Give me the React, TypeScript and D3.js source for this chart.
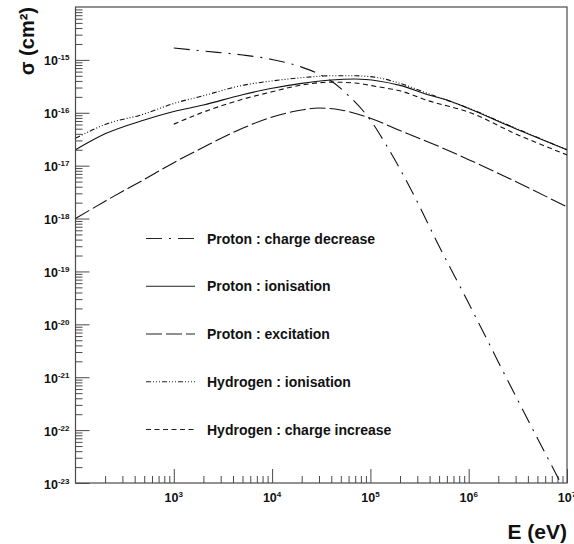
import React, { useEffect, useRef } from "react";
import * as d3 from "d3";

const width = 574;
const height = 544;
const marginTop = 7;
const marginRight = 7;
const marginBottom = 61;
const marginLeft = 75.5;

// Proton : charge decrease
const cdEnergy = [1e3, 2e3, 5e3, 1e4, 2e4, 3e4, 4e4, 6e4, 1e5, 1.5e5, 2.5e5, 5e5, 1e6, 2e6, 5e6, 1e7];
const cdSigma = [1.68e-15, 1.47e-15, 1.24e-15, 1.02e-15, 7.3e-16, 5.4e-16, 4.0e-16, 2.1e-16, 7.3e-17, 2.2e-17, 4.0e-18, 3.0e-19, 2.5e-20, 1.95e-21, 7e-23, 6e-24];

// Proton : ionisation
const piEnergy = [100, 200, 500, 1e3, 2e3, 5e3, 1e4, 2e4, 4e4, 7e4, 1.2e5, 2e5, 4e5, 6e5, 1e6, 3e6, 1e7];
const piSigma = [2.0e-17, 4.0e-17, 7.3e-17, 1.06e-16, 1.4e-16, 2.2e-16, 2.9e-16, 3.6e-16, 4.17e-16, 4.35e-16, 4.0e-16, 3.3e-16, 2.15e-16, 1.75e-16, 1.2e-16, 5.0e-17, 2.0e-17];

// Proton : excitation
const peEnergy = [100, 200, 500, 1e3, 2e3, 5e3, 1e4, 2e4, 3e4, 5e4, 1e5, 2e5, 5e5, 1e6, 3e6, 1e7];
const peSigma = [1.0e-18, 2.13e-18, 5.5e-18, 1.14e-17, 2.23e-17, 5.1e-17, 8.3e-17, 1.13e-16, 1.23e-16, 1.13e-16, 7.9e-17, 4.6e-17, 2.3e-17, 1.3e-17, 5.0e-18, 1.66e-18];

// Hydrogen : ionisation
const hiEnergy = [100, 200, 500, 1e3, 2e3, 5e3, 1e4, 2e4, 4e4, 7e4, 1.2e5, 2e5, 4e5, 1e6, 3e6, 1e7];
const hiSigma = [3.3e-17, 6.0e-17, 9.5e-17, 1.5e-16, 2.1e-16, 3.3e-16, 4.0e-16, 4.6e-16, 5.0e-16, 5.0e-16, 4.6e-16, 3.6e-16, 2.25e-16, 1.22e-16, 5.1e-17, 2.0e-17];

// Hydrogen : charge increase
const hcEnergy = [1e3, 2e3, 5e3, 1e4, 2e4, 4e4, 7e4, 1.2e5, 2e5, 4e5, 1e6, 3e6, 1e7];
const hcSigma = [6.1e-17, 1.03e-16, 1.8e-16, 2.5e-16, 3.35e-16, 3.8e-16, 3.65e-16, 3.1e-16, 2.6e-16, 1.66e-16, 1.03e-16, 4.0e-17, 1.6e-17];

const seriesLabels = [
  "Proton : charge decrease",
  "Proton : ionisation",
  "Proton : excitation",
  "Hydrogen : ionisation",
  "Hydrogen : charge increase",
];

const xExponents = [3, 4, 5, 6, 7];
const yExponents = [-23, -22, -21, -20, -19, -18, -17, -16, -15];

const dashes = ["16 7 2 7", null, "16 4", "5 2 1 2 1 2 1 2", "5 3.5"];
const font = "'Liberation Sans', Arial, Helvetica, sans-serif";

const App = () => {
  const ref = useRef(null);

  useEffect(() => {
    const series = [
      { label: seriesLabels[0], E: cdEnergy, S: cdSigma },
      { label: seriesLabels[1], E: piEnergy, S: piSigma },
      { label: seriesLabels[2], E: peEnergy, S: peSigma },
      { label: seriesLabels[3], E: hiEnergy, S: hiSigma },
      { label: seriesLabels[4], E: hcEnergy, S: hcSigma },
    ];

    const x = d3.scaleLog([1e2, 1e7], [marginLeft, width - marginRight]);
    const y = d3.scaleLog([1e-23, 1e-14], [height - marginBottom, marginTop]);

    const svg = d3.select(ref.current);
    svg.selectAll("*").remove();

    // minor tick values 2..9 per decade
    const minors = (lo, hi) => {
      const out = [];
      for (let e = lo; e < hi; e++) for (let k = 2; k <= 9; k++) out.push(k * Math.pow(10, e));
      return out;
    };
    const axisColor = "#4a4a4a";

    svg
      .append("defs")
      .append("clipPath")
      .attr("id", "plot")
      .append("rect")
      .attr("x", marginLeft)
      .attr("y", marginTop)
      .attr("width", width - marginRight - marginLeft)
      .attr("height", height - marginBottom - marginTop);

    // x axis (ticks pointing inward)
    const gx = svg.append("g").attr("transform", `translate(0,${height - marginBottom})`);
    gx.call(d3.axisBottom(x).tickValues(minors(2, 7)).tickSize(-7).tickFormat(() => "").tickSizeOuter(0));
    gx.call((g) => g.select(".domain").remove());
    const gx2 = svg.append("g").attr("transform", `translate(0,${height - marginBottom})`);
    gx2.call(d3.axisBottom(x).tickValues(xExponents.map((e) => Math.pow(10, e))).tickSize(-14).tickFormat(() => "").tickSizeOuter(0));
    gx2.call((g) => g.select(".domain").remove());

    // y axis
    const gy = svg.append("g").attr("transform", `translate(${marginLeft},0)`);
    gy.call(d3.axisLeft(y).tickValues(minors(-23, -14)).tickSize(-7).tickFormat(() => "").tickSizeOuter(0));
    gy.call((g) => g.select(".domain").remove());
    const gy2 = svg.append("g").attr("transform", `translate(${marginLeft},0)`);
    gy2.call(d3.axisLeft(y).tickValues(yExponents.map((e) => Math.pow(10, e))).tickSize(-14).tickFormat(() => "").tickSizeOuter(0));
    gy2.call((g) => g.select(".domain").remove());

    svg.selectAll(".tick line").attr("stroke", axisColor).attr("stroke-width", 1);

    // frame
    svg
      .append("rect")
      .attr("x", marginLeft)
      .attr("y", marginTop)
      .attr("width", width - marginRight - marginLeft)
      .attr("height", height - marginBottom - marginTop)
      .attr("fill", "none")
      .attr("stroke", axisColor)
      .attr("stroke-width", 1.2);

    // tick labels
    const xl = svg
      .append("g")
      .selectAll("text")
      .data(xExponents)
      .join("text")
      .attr("x", (e) => x(Math.pow(10, e)))
      .attr("y", height - marginBottom + 19)
      .attr("text-anchor", "middle")
      .attr("font-family", font)
      .attr("font-weight", "bold")
      .attr("font-size", 12.5)
      .attr("fill", "#111");
    xl.append("tspan").text("10");
    xl.append("tspan").attr("dy", -5).attr("font-size", 8).text((e) => e);

    const yl = svg
      .append("g")
      .selectAll("text")
      .data(yExponents)
      .join("text")
      .attr("x", marginLeft - 6)
      .attr("y", (e) => y(Math.pow(10, e)) + 5.5)
      .attr("text-anchor", "end")
      .attr("font-family", font)
      .attr("font-weight", "bold")
      .attr("font-size", 12.5)
      .attr("fill", "#111");
    yl.append("tspan").text("10");
    yl.append("tspan").attr("dy", -5).attr("font-size", 8).text((e) => e);

    // axis titles
    svg
      .append("text")
      .attr("transform", `translate(34,${marginTop}) rotate(-90)`)
      .attr("text-anchor", "end")
      .attr("font-family", font)
      .attr("font-weight", "bold")
      .attr("font-size", 20)
      .attr("fill", "#111")
      .text("σ (cm²)");

    svg
      .append("text")
      .attr("x", width - marginRight)
      .attr("y", 539)
      .attr("text-anchor", "end")
      .attr("font-family", font)
      .attr("font-weight", "bold")
      .attr("font-size", 21)
      .attr("fill", "#111")
      .text("E (eV)");

    // curves
    const line = d3
      .line()
      .x((d) => x(d[0]))
      .y((d) => y(d[1]))
      .curve(d3.curveMonotoneX);

    svg
      .append("g")
      .attr("clip-path", "url(#plot)")
      .selectAll("path")
      .data(series)
      .join("path")
      .attr("d", (s) => line(s.E.map((e, i) => [e, s.S[i]])))
      .attr("fill", "none")
      .attr("stroke", "#111")
      .attr("stroke-width", 1.1)
      .attr("stroke-dasharray", (s, i) => dashes[i]);

    // legend
    const lg = svg
      .append("g")
      .selectAll("g")
      .data(series)
      .join("g")
      .attr("transform", (s, i) => `translate(146,${238.5 + i * 47.75})`);
    lg.append("line")
      .attr("x1", 0)
      .attr("x2", 49)
      .attr("stroke", "#222")
      .attr("stroke-width", 1.1)
      .attr("stroke-dasharray", (s, i) => dashes[i]);
    lg.append("text")
      .attr("x", 61)
      .attr("y", 5)
      .attr("font-family", font)
      .attr("font-weight", "bold")
      .attr("font-size", 14)
      .attr("fill", "#111")
      .text((s) => s.label);
  }, []);

  return (
    <svg
      ref={ref}
      width={width}
      height={height}
      style={{ position: "absolute", left: 0, top: 0, background: "#fff" }}
    />
  );
};

export default App;
